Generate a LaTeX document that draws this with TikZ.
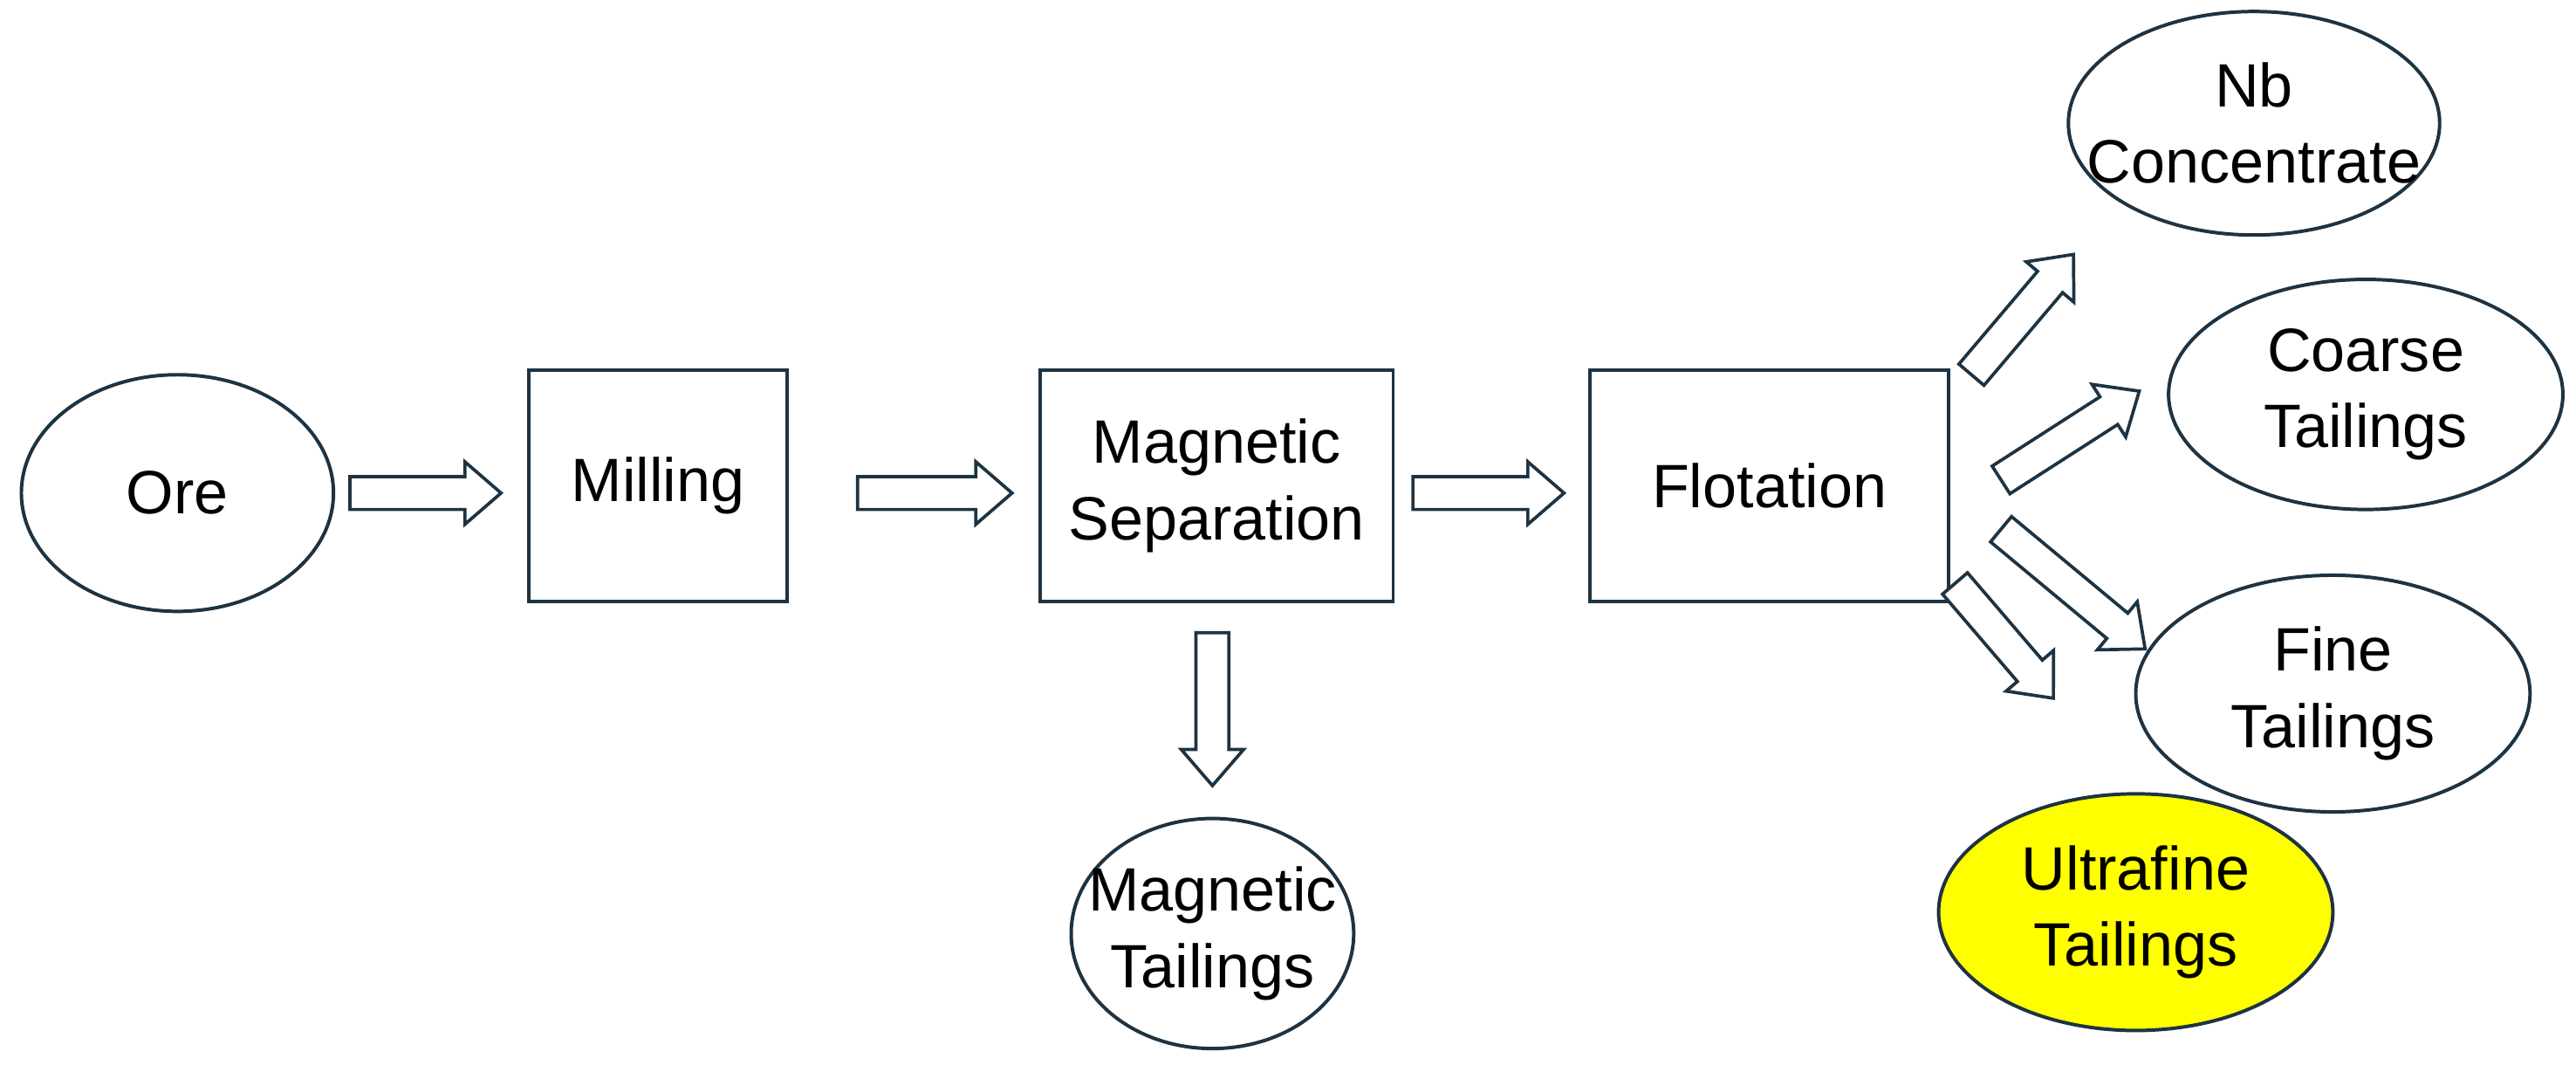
\documentclass[tikz,border=0pt]{standalone}
\usepackage{fontspec}
\setmainfont{Liberation Sans}
\usetikzlibrary{shapes.geometric}
\definecolor{ln}{HTML}{1E3342}
\definecolor{yl}{HTML}{FFFF00}
\begin{document}
\begin{tikzpicture}[x=0.05cm,y=-0.05cm,
  every node/.style={font=\fontsize{53}{66}\selectfont, align=center, text=black},
  el/.style={draw=ln, line width=3pt, ellipse, inner sep=-3cm},
  bx/.style={draw=ln, line width=3pt, rectangle, inner sep=0pt},
  blk/.pic={\draw[draw=ln, line width=2.8pt, fill=white, line join=miter]
     (0,-10)--({#1-22},-10)--({#1-22},-19)--(#1,0)--({#1-22},19)--({#1-22},10)--(0,10)--cycle;}]
\useasboundingbox (0,0) rectangle (1568,656.5);
\node[el, minimum width=9.5cm, minimum height=7.2cm] (ore) at (108,300) {Ore};
\node[bx, minimum width=7.85cm, minimum height=7.05cm] (mill) at (400.5,295.5) {Milling};
\node[bx, minimum width=10.75cm, minimum height=7.05cm] (mag) at (740.5,295.5) {Magnetic\\Separation};
\node[bx, minimum width=10.9cm, minimum height=7.05cm] (flot) at (1077,295.5) {Flotation};
\node[el, minimum width=8.6cm, minimum height=7cm] (magt) at (738,568) {Magnetic\\Tailings};
\node[el, minimum width=11.3cm, minimum height=6.8cm] (nb) at (1372,75) {Nb\\Concentrate};
\node[el, minimum width=12cm, minimum height=7cm] (coarse) at (1440,240) {Coarse\\Tailings};
\node[el, minimum width=12cm, minimum height=7.2cm] (fine) at (1420,422) {Fine\\Tailings};
\node[el, fill=yl, minimum width=12cm, minimum height=7.2cm] (ultra) at (1300,555) {Ultrafine\\Tailings};
\pic at (213,300) {blk=92};
\pic at (522,300) {blk=94};
\pic at (860,300) {blk=92};
\pic[rotate=-90] at (738,385) {blk=93};
\pic[rotate=49.7] at (1200,228) {blk=96};
\pic[rotate=32.7] at (1218,292) {blk=100};
\pic[rotate=-39.7] at (1218,322) {blk=114};
\pic[rotate=-49.4] at (1190,355) {blk=92};
\end{tikzpicture}
\end{document}
